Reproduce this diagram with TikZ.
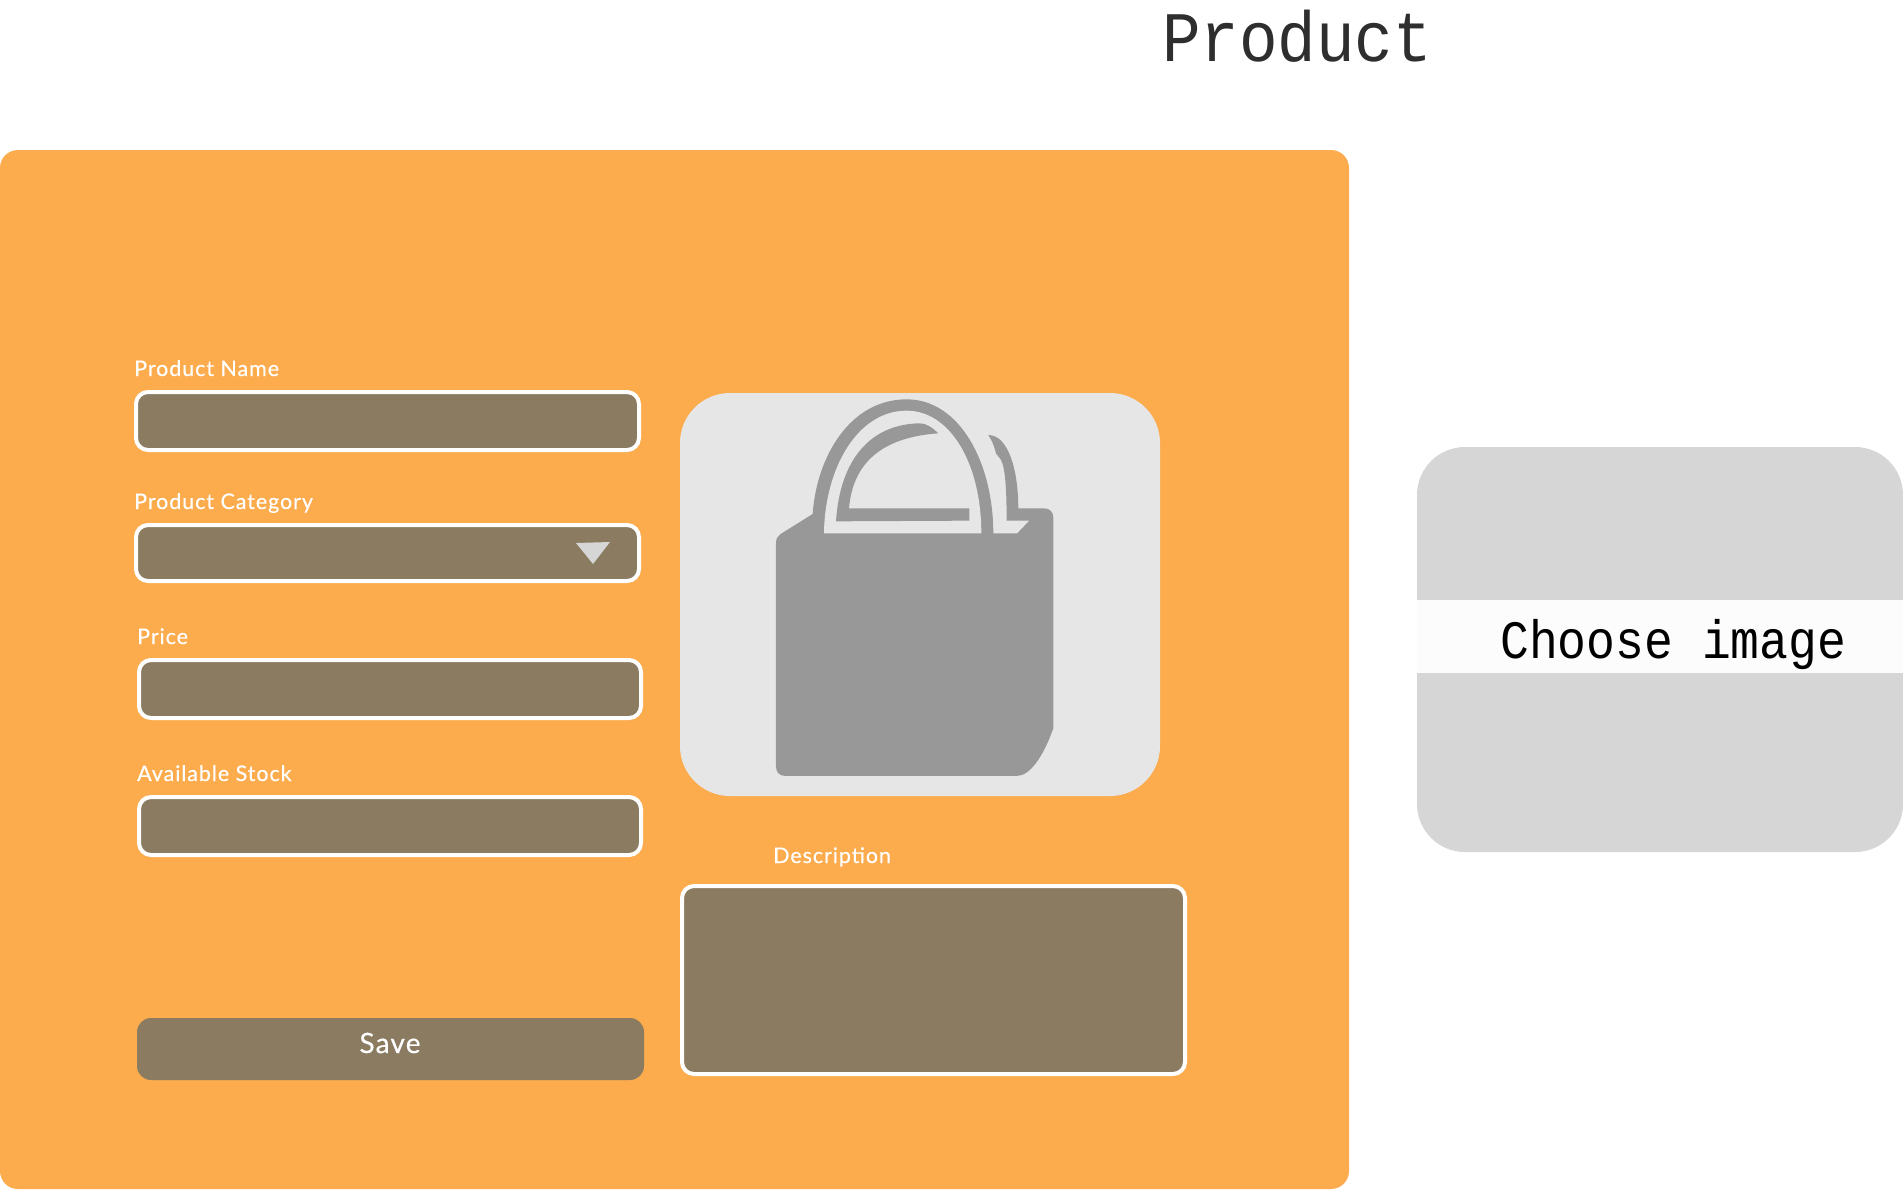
\documentclass[tikz,border=0pt]{standalone}
\usepackage{fontspec}
\setmainfont{Lato}
\newfontfamily\labelfont[LetterSpace=4.3,FakeBold=0.4]{Lato}
\newfontfamily\monofont[FakeStretch=0.89]{Liberation Mono}
\newfontfamily\titlefont[FakeStretch=0.905]{Liberation Mono}
\definecolor{cardorange}{HTML}{FCAB4D}
\definecolor{fieldbrown}{HTML}{8A7B61}
\definecolor{panelgrey}{HTML}{D6D6D6}
\definecolor{imagegrey}{HTML}{E6E6E6}
\definecolor{baggrey}{HTML}{989898}
\definecolor{titlegrey}{HTML}{2E2E2E}
\definecolor{bandwhite}{HTML}{FCFCFC}
\tikzset{
  fieldbox/.style={fill=fieldbrown,draw=white,line width=4pt,rounded corners=12pt},
  fieldlabel/.style={anchor=base west,inner sep=0pt,text=white,font=\labelfont\fontsize{21.5}{25}\selectfont},
}
\begin{document}
\begin{tikzpicture}[x=1pt,y=-1pt]
\useasboundingbox (0,0) rectangle (1903,1189);
\fill[white] (0,0) rectangle (1903,1189);
% title
\node[anchor=base west,inner sep=0pt,text=titlegrey,font=\titlefont\fontsize{71}{80}\selectfont] (title) at (1162,61) {Product};
% main card
\fill[cardorange,rounded corners=18pt] (0,150) rectangle (1349,1189);
% fields
\draw[fieldbox] (136,392) rectangle (639,450);
\draw[fieldbox] (136,525) rectangle (639,581);
\draw[fieldbox] (139,660) rectangle (641,718);
\draw[fieldbox] (139,797) rectangle (641,855);
\draw[fieldbox] (682,886) rectangle (1185,1074);
\fill[fieldbrown,rounded corners=14pt] (137,1018) rectangle (644,1080);
% dropdown arrow
\fill[panelgrey] (576,543) -- (610,542) -- (593,564) -- cycle;
% labels
\node[fieldlabel] (lname) at (134,376) {Product Name};
\node[fieldlabel] (lcat) at (134,509) {Product Category};
\node[fieldlabel] (lprice) at (137,644) {Price};
\node[fieldlabel] (lstock) at (137,781) {Available Stock};
\node[fieldlabel] (ldesc) at (773,863) {Description};
\node[anchor=base,inner sep=0pt,text=white,font=\labelfont\fontsize{28}{32}\selectfont] (lsave) at (390,1053) {Save};
% image card
\fill[imagegrey,rounded corners=50pt] (680,393) rectangle (1160,796);
% bag
\begin{scope}[shift={(660,380)},x=0.3333pt,y=-0.3333pt]
\fill[baggrey] (348,1160) -- (348,488) .. controls (348,476) and (354,468) .. (362,462)
  -- (458,402) .. controls (470,230) and (570,58) .. (740,58)
  .. controls (900,58) and (1000,250) .. (1000,460)
  -- (1072,460) -- (1108,422) -- (1040,422)
  .. controls (1040,330) and (1036,260) .. (1022,238) -- (1008,220)
  .. controls (1002,195) and (995,180) .. (985,165)
  .. controls (1045,165) and (1075,270) .. (1075,385)
  -- (1152,385) .. controls (1170,385) and (1180,397) .. (1180,412)
  -- (1180,1045) .. controls (1150,1130) and (1110,1188) .. (1070,1188)
  -- (376,1188) .. controls (358,1188) and (348,1176) .. (348,1160) -- cycle;
\fill[imagegrey] (492,460) .. controls (494,270) and (590,92) .. (740,92)
  .. controls (870,92) and (964,250) .. (964,460) -- cycle;
\fill[baggrey] (528,424) .. controls (540,240) and (630,132) .. (780,130)
  .. controls (800,130) and (820,145) .. (835,160)
  .. controls (690,170) and (580,230) .. (567,385)
  -- (928,385) -- (928,422) -- cycle;
\end{scope}
% right panel
\fill[panelgrey,rounded corners=48pt] (1417,447) rectangle (1903,852);
\fill[bandwhite] (1417,600) rectangle (1903,673);
\node[anchor=base west,inner sep=0pt,text=black,font=\monofont\fontsize{54}{64}\selectfont] (choose) at (1500,658) {Choose image};
\end{tikzpicture}
\end{document}
